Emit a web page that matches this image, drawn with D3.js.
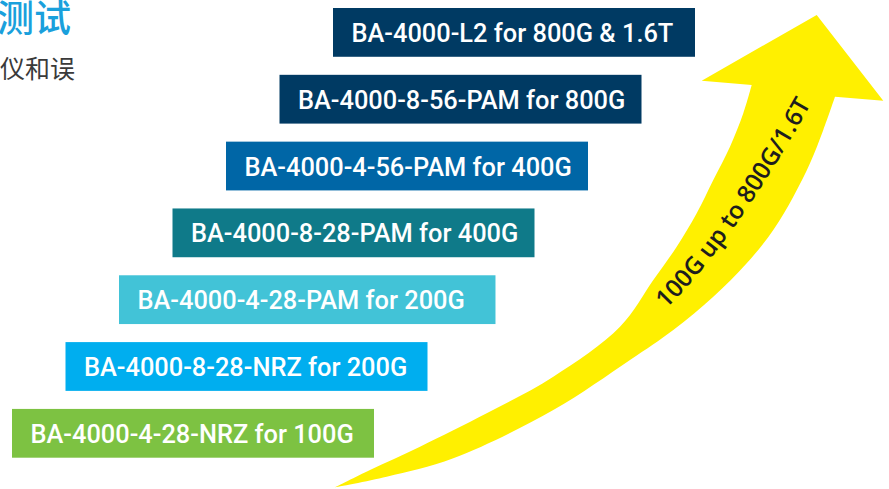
<!DOCTYPE html>
<html>
<head>
<meta charset="utf-8">
<script src="https://cdn.jsdelivr.net/npm/d3@7"></script>
<style>
  html, body { margin: 0; padding: 0; background: #fff; overflow: hidden; }
  svg { display: block; }
</style>
</head>
<body>
<div id="chart"></div>
<script>
// ---- data (bottom step first) ----
const categories = [
  "BA-4000-4-28-NRZ for 100G",
  "BA-4000-8-28-NRZ for 200G",
  "BA-4000-4-28-PAM for 200G",
  "BA-4000-8-28-PAM for 400G",
  "BA-4000-4-56-PAM for 400G",
  "BA-4000-8-56-PAM for 800G",
  "BA-4000-L2 for 800G & 1.6T"
];
const barLengths = [100, 100, 104, 100, 100, 100, 100];
const barColors = ["#7dc242", "#00aeef", "#42c3d7", "#0f7a89", "#0066a6", "#003a63", "#003a63"];
const arrowLabel = "100G up to 800G/1.6T";
const titleText = "测试";
const subtitleText = "仪和误";

// arrow outline (decorative shape)
const arrowUpper = [[335,487.3],[370,470],[420,446.7],[486.7,413.3],[553.3,376.7],[620,326.7],[653.3,280],[676.7,246.7],[696.7,213.3],[713.3,180],[730,146.7],[743.3,113.3],[751.7,85]];
const arrowHead = [[701.7,80.7],[816.7,15],[883.3,100.7]];
const arrowLower = [[835,96.7],[823.3,130],[810,163.3],[793.3,196.7],[773.3,230],[746.7,263.3],[713.3,296.7],[673.3,330],[630,360],[553.3,410],[453.3,458.3],[386.7,476.7],[335,487.3]];
const labelPath = [[666,309],[734.3,243],[820,88]];

const W = 889, H = 489;
const svg = d3.select("#chart").append("svg").attr("width", W).attr("height", H);

// scales
const y = d3.scaleBand().domain(categories).range([457.7, 8]).paddingInner(0.27).paddingOuter(0);
const xStep = d3.scaleLinear().domain([0, categories.length - 1]).range([12, 333]);
const xLen = d3.scaleLinear().domain([0, 100]).range([0, 362]);

// title fragments
svg.append("text")
  .attr("x", 71).attr("y", 32)
  .attr("text-anchor", "end")
  .attr("font-family", "'Noto Sans CJK SC', sans-serif")
  .attr("font-size", 37)
  .attr("font-weight", 500)
  .attr("fill", "#1aa0dc")
  .text(titleText);
svg.append("text")
  .attr("x", 75).attr("y", 78)
  .attr("text-anchor", "end")
  .attr("font-family", "'Noto Sans CJK SC', sans-serif")
  .attr("font-size", 25)
  .attr("fill", "#3a3a3a")
  .text(subtitleText);

// arrow
const edge = d3.line().curve(d3.curveCatmullRom.alpha(0.5));
const upperD = edge(arrowUpper);
const headD = arrowHead.map(p => "L" + p[0] + "," + p[1]).join("");
const lowerD = edge(arrowLower).replace(/^M/, "L");
svg.append("path")
  .attr("d", upperD + headD + lowerD + "Z")
  .attr("fill", "#fff000");

svg.append("path").attr("id", "labelCurve").attr("d", (() => {
  const [a,b,c] = labelPath;
  return `M${a[0]},${a[1]}Q${b[0]},${b[1]} ${c[0]},${c[1]}`;
})()).attr("fill", "none");
svg.append("text")
  .attr("font-family", "'Open Sans', sans-serif")
  .attr("font-weight", 600)
  .attr("font-size", 24.5)
  .attr("fill", "#1e1e1e")
  .append("textPath")
  .attr("href", "#labelCurve")
  .attr("startOffset", 0)
  .text(arrowLabel);

// bars
const g = svg.append("g");
const bars = g.selectAll("g.bar").data(categories).join("g").attr("class", "bar");
bars.append("rect")
  .attr("x", (d, i) => xStep(i))
  .attr("y", d => y(d))
  .attr("width", (d, i) => xLen(barLengths[i]))
  .attr("height", y.bandwidth())
  .attr("fill", (d, i) => barColors[i]);
bars.append("text")
  .attr("x", (d, i) => xStep(i) + 18.5)
  .attr("y", d => y(d) + y.bandwidth() / 2 + 9.6)
  .attr("font-family", "Roboto, sans-serif")
  .attr("font-size", 25.4)
  .attr("font-weight", 500)
  .attr("fill", "#ffffff")
  .text(d => d);
</script>
</body>
</html>
